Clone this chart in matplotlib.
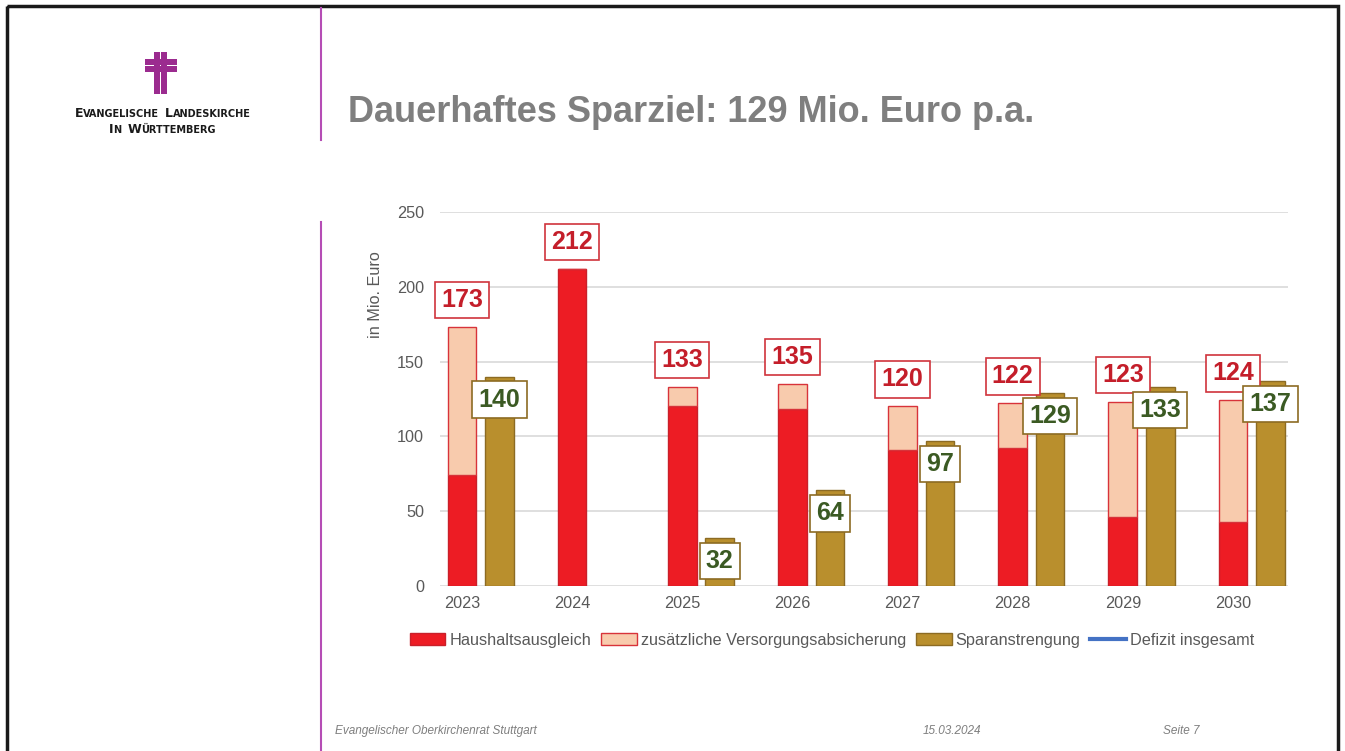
import matplotlib
matplotlib.use("Agg")
import matplotlib.pyplot as plt
from matplotlib.patches import Rectangle, Patch
from matplotlib.lines import Line2D
import numpy as np

plt.rcParams["font.family"] = ["Liberation Sans", "DejaVu Sans"]

# data (Mio. Euro)
years = ["2023", "2024", "2025", "2026", "2027", "2028", "2029", "2030"]
haushalt = [74, 212, 120, 118, 91, 92, 46, 43]
gesamt = [173, 212, 133, 135, 120, 122, 123, 124]
versorgung = [g - h for g, h in zip(gesamt, haushalt)]
sparen = [140, 0, 32, 64, 97, 129, 133, 137]

legend_labels = ["Haushaltsausgleich", "zusätzliche Versorgungsabsicherung",
                 "Sparanstrengung", "Defizit insgesamt"]
title = "Dauerhaftes Sparziel: 129 Mio. Euro p.a."
footer_left = "Evangelischer Oberkirchenrat Stuttgart"
footer_date = "15.03.2024"
footer_page = "Seite 7"

RED = "#ed1c24"
RED_EDGE = "#c9202a"
PEACH = "#f8cbad"
GOLD = "#b98f2d"
GOLD_EDGE = "#8c6b23"
GREY = "#595959"
PURPLE = "#9b2b8f"

W, H = 1345, 751
fig = plt.figure(figsize=(W / 100, H / 100), dpi=100)

# background axes in pixel coordinates for the slide decoration
bg = fig.add_axes([0, 0, 1, 1])
bg.set_xlim(0, W)
bg.set_ylim(H, 0)
bg.axis("off")
bg.add_patch(Rectangle((7, 6), 1331, 770, fill=False, edgecolor="#1a1a1a", lw=2.5))
bg.plot([321, 321], [8, 140], color="#b54db5", lw=1.5)
bg.plot([321, 321], [222, H], color="#b54db5", lw=1.5)

# logo cross (double bars with a thin white gap)
for x0, y0, w, h in [(153.5, 52, 6.5, 42), (160.5, 52, 6.5, 42),
                     (144.5, 58.5, 32.5, 6.5), (144.5, 65.5, 32.5, 6.5)]:
    bg.add_patch(Rectangle((x0, y0), w, h, facecolor=PURPLE, edgecolor="none"))

renderer = fig.canvas.get_renderer()


def small_caps(words, cx, cy, big=9.0, small=7.0, gap=6):
    parts = []
    for k, word in enumerate(words):
        for seg, size in [(word[0], big), (word[1:], small)]:
            t = bg.text(0, cy, seg, fontsize=size, fontweight="bold",
                        color="#1a1a1a", ha="left", va="baseline",
                        family=["DejaVu Sans"])
            parts.append((t, 0))
        if k < len(words) - 1:
            parts[-1] = (parts[-1][0], gap)
    widths = [t.get_window_extent(renderer).width for t, _ in parts]
    total = sum(widths) + sum(g for _, g in parts)
    x = cx - total / 2
    for (t, g), w in zip(parts, widths):
        t.set_x(x)
        x += w + g


small_caps(["EVANGELISCHE", "LANDESKIRCHE"], 163, 117)
small_caps(["IN", "WÜRTTEMBERG"], 162, 133)

bg.text(348, 112, title, fontsize=26, fontweight="bold", color="#7f7f7f",
        ha="left", va="center")

for x, s in [(335, footer_left), (923, footer_date), (1163, footer_page)]:
    bg.text(x, 731, s, fontsize=8.5, style="italic", color="#7f7f7f",
            ha="left", va="center",
            family=["Liberation Sans Narrow", "Liberation Sans"])

bg.text(375, 295, "in Mio. Euro", fontsize=11.7, color=GREY, rotation=90,
        ha="center", va="center")

# chart
ax = fig.add_axes([440 / W, 1 - 586 / H, (1288 - 440) / W, (586 - 212) / H])
ax.set_facecolor("none")
x = np.arange(len(years))
off = 0.34
bw = 0.26

ax.bar(x, haushalt, bw, color=RED, edgecolor=RED_EDGE, lw=1, zorder=3)
ax.bar(x, versorgung, bw, bottom=haushalt, color=PEACH, edgecolor="#d8333a",
       lw=1, zorder=3)
idx = [i for i, v in enumerate(sparen) if v > 0]
ax.bar(x[idx] + off, [sparen[i] for i in idx], bw, color=GOLD,
       edgecolor=GOLD_EDGE, lw=1, zorder=3)

for i, g in enumerate(gesamt):
    ax.annotate(str(g), (x[i], g), xytext=(0, 27), textcoords="offset pixels",
                ha="center", va="center", fontsize=18, fontweight="bold",
                color="#c41e2a", zorder=5, annotation_clip=False,
                bbox=dict(boxstyle="square,pad=0.25", fc="white", ec="#d0343c", lw=1.2))
for i in idx:
    ax.annotate(str(sparen[i]), (x[i] + off, sparen[i]), xytext=(0, -23),
                textcoords="offset pixels", ha="center", va="center",
                fontsize=18, fontweight="bold", color="#3b5a23", zorder=6,
                annotation_clip=False,
                bbox=dict(boxstyle="square,pad=0.25", fc="white", ec=GOLD_EDGE, lw=1.2))

ax.set_xlim(-0.2, 7.5)
ax.set_ylim(0, 250)
ax.set_yticks(range(0, 251, 50))
ax.set_xticks(x)
ax.set_xticklabels(years)
ax.grid(axis="y", color="#d9d9d9", lw=1.2, zorder=0)
for sp in ax.spines.values():
    sp.set_visible(False)
ax.tick_params(axis="both", length=0, labelsize=11.7, labelcolor=GREY)
ax.tick_params(axis="y", pad=11.5)
ax.tick_params(axis="x", pad=7)

handles = [Patch(facecolor=RED, edgecolor=RED_EDGE),
           Patch(facecolor=PEACH, edgecolor="#d8333a"),
           Patch(facecolor=GOLD, edgecolor=GOLD_EDGE),
           Line2D([], [], color="#4472c4", lw=3)]
leg = fig.legend(handles, legend_labels, loc="center", ncol=4,
                 bbox_to_anchor=(832 / W, 1 - 640 / H), frameon=False,
                 fontsize=11.7, handlelength=2.2, handletextpad=0.25,
                 columnspacing=0.6, borderaxespad=0)
for t in leg.get_texts():
    t.set_color(GREY)

fig.savefig("out.png", dpi=100)
